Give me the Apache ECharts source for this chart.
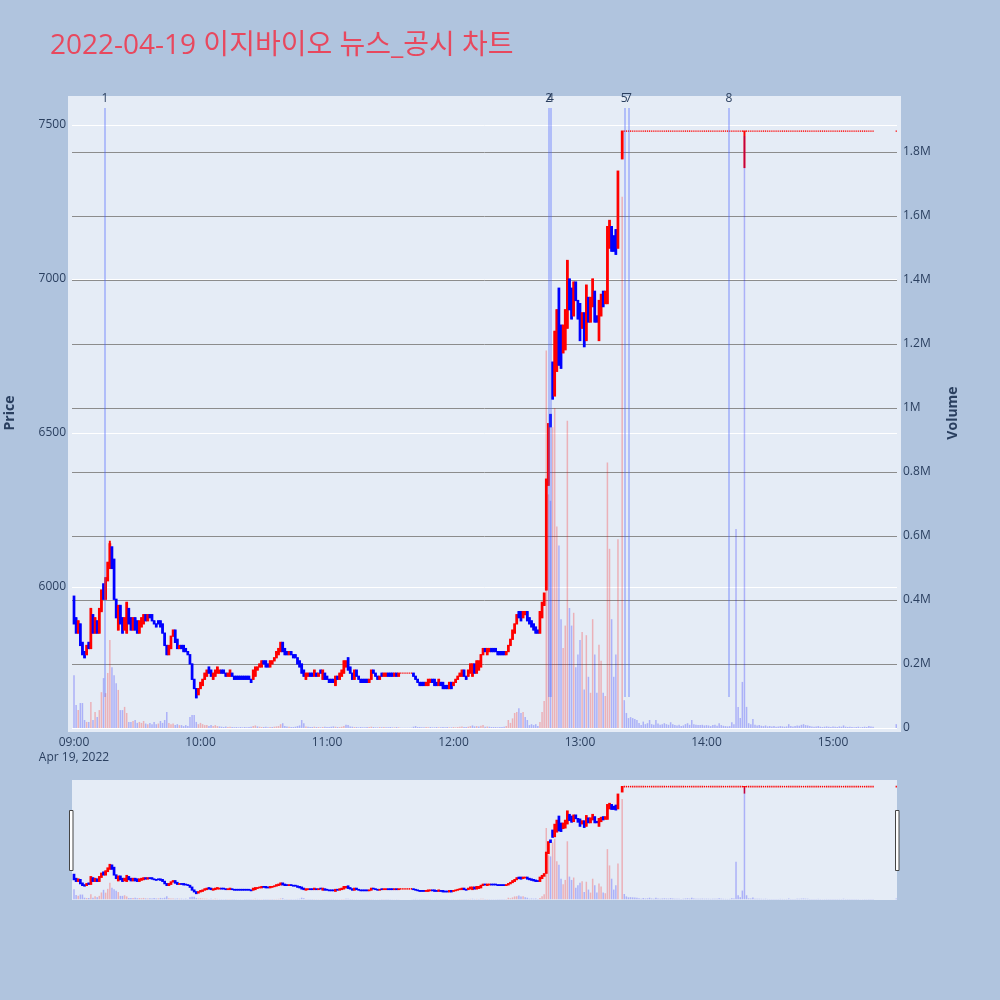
<!DOCTYPE html>
<html><head><meta charset="utf-8">
<script src="https://cdn.jsdelivr.net/npm/echarts@6/dist/echarts.min.js"></script>
<style>html,body{margin:0;padding:0;background:#b0c4de}#c{width:1000px;height:1000px}</style>
</head><body><div id="c"></div>
<script>
const titleText = '2022-04-19 이지바이오 뉴스_공시 차트';
const startMinute = 540; // first candle 09:00 (minutes of day), one candle per minute

const openPrices = [
5970,5900,5850,5880,5820,5790,5780,5820,5800,5910,
5850,5890,5850,5920,6010,5960,6020,6060,6130,6090,
5960,5860,5940,5900,5860,5850,5930,5900,5860,5900,
5890,5850,5870,5880,5910,5890,5910,5910,5890,5880,
5890,5890,5880,5850,5810,5780,5800,5840,5860,5830,
5800,5810,5810,5800,5790,5780,5750,5700,5670,5650,
5670,5680,5700,5710,5740,5730,5700,5710,5720,5720,
5730,5730,5720,5710,5710,5720,5710,5710,5710,5710,
5710,5710,5710,5710,5700,5700,5710,5730,5740,5740,
5760,5760,5750,5740,5750,5760,5770,5780,5790,5820,
5800,5790,5780,5790,5780,5780,5770,5760,5750,5730,
5700,5710,5720,5720,5710,5720,5710,5730,5700,5720,
5710,5700,5700,5700,5680,5710,5700,5710,5720,5740,
5770,5740,5720,5700,5730,5710,5700,5700,5700,5700,
5690,5700,5730,5720,5710,5700,5720,5710,5710,5720,
5720,5720,5710,5720,5710,5720,5720,5720,5720,5720,
5720,5720,5710,5700,5690,5690,5690,5680,5680,5690,
5700,5700,5690,5680,5690,5690,5680,5680,5670,5690,
5680,5690,5700,5710,5710,5730,5710,5710,5720,5710,
5750,5720,5730,5740,5780,5800,5780,5790,5800,5800,
5800,5790,5790,5790,5790,5780,5790,5810,5830,5850,
5880,5920,5920,5900,5910,5920,5900,5890,5880,5870,
5860,5850,5900,5940,5990,6330,6560,6730,6620,6700,
6970,6850,6760,6770,6840,7000,6970,6880,6990,6930,
6920,6840,6890,6800,6940,6860,6910,6960,6880,6800,
6880,6960,6920,6920,7100,7170,7140,7160,7100,null,
7390,7480,7480,7480,7480,7480,7480,7480,7480,7480,
7480,7480,7480,7480,7480,7480,7480,7480,7480,7480,
7480,7480,7480,7480,7480,7480,7480,7480,7480,7480,
7480,7480,7480,7480,7480,7480,7480,7480,7480,7480,
7480,7480,7480,7480,7480,7480,7480,7480,7480,7480,
7480,7480,7480,7480,7480,7480,7480,7480,7480,7480,
7480,7480,7480,7480,7480,7480,7480,7480,7480,7480,
7480,7480,7480,7480,7480,7480,7480,7480,7480,7480,
7480,7480,7480,7480,7480,7480,7480,7480,7480,7480,
7480,7480,7480,7480,7480,7480,7480,7480,7480,7480,
7480,7480,7480,7480,7480,7480,7480,7480,7480,7480,
7480,7480,7480,7480,7480,7480,7480,7480,7480,7480,
null,null,null,null,null,null,null,null,null,null,
7480
];

const closePrices = [
5880,5850,5890,5810,5780,5770,5810,5800,5930,5850,
5900,5850,5930,5990,5960,6030,6080,6140,6060,5960,
5900,5940,5880,5850,5900,5950,5880,5860,5900,5860,
5850,5890,5900,5910,5890,5910,5900,5890,5880,5870,
5880,5870,5850,5810,5780,5810,5840,5860,5820,5800,
5810,5800,5790,5790,5780,5750,5700,5670,5640,5670,
5690,5700,5720,5730,5720,5710,5720,5730,5740,5730,
5720,5720,5710,5720,5730,5710,5700,5700,5700,5700,
5700,5700,5700,5700,5690,5730,5740,5740,5750,5760,
5750,5740,5740,5760,5760,5770,5790,5800,5820,5790,
5780,5780,5790,5780,5770,5770,5750,5740,5720,5710,
5720,5720,5710,5710,5730,5710,5720,5720,5730,5700,
5700,5690,5690,5690,5710,5700,5720,5730,5760,5760,
5730,5720,5700,5730,5710,5700,5690,5690,5690,5690,
5700,5730,5720,5710,5700,5710,5710,5720,5720,5710,
5710,5710,5720,5710,5720,5720,5720,5720,5720,5720,
5720,5710,5700,5690,5680,5680,5680,5690,5700,5700,
5690,5680,5680,5700,5680,5670,5670,5670,5690,5670,
5690,5700,5710,5720,5730,5710,5700,5730,5750,5750,
5720,5760,5760,5780,5800,5790,5800,5800,5790,5790,
5790,5780,5780,5780,5780,5790,5810,5830,5860,5880,
5910,5900,5890,5920,5920,5890,5880,5870,5860,5850,
5850,5920,5950,5980,6350,6530,6520,6610,6830,6900,
6720,6710,6850,6900,7060,6900,6870,6990,6930,6870,
6800,6890,6780,6980,6860,6940,7000,6860,6860,6930,
6950,6910,6960,7170,7190,7090,7090,7080,7350,null,
7480,7480,7480,7480,7480,7480,7480,7480,7480,7480,
7480,7480,7480,7480,7480,7480,7480,7480,7480,7480,
7480,7480,7480,7480,7480,7480,7480,7480,7480,7480,
7480,7480,7480,7480,7480,7480,7480,7480,7480,7480,
7480,7480,7480,7480,7480,7480,7480,7480,7480,7480,
7480,7480,7480,7480,7480,7480,7480,7480,7480,7480,
7480,7480,7480,7480,7480,7480,7480,7480,7480,7480,
7480,7480,7480,7480,7480,7480,7480,7480,7480,7480,
7480,7480,7480,7480,7480,7480,7480,7480,7480,7480,
7480,7480,7480,7480,7480,7480,7480,7480,7480,7480,
7480,7480,7480,7480,7480,7480,7480,7480,7480,7480,
7480,7480,7480,7480,7480,7480,7480,7480,7480,7480,
null,null,null,null,null,null,null,null,null,null,
7480
];

// wicks that extend past the candle body (minute index -> price)
const wickLows = { 318: 7360 };
const wickHighs = { 17: 6150 };

// traded volume, thousands of shares per minute
const volumesK = [
165,72,56,78,78,25,19,19,81,25,
50,34,56,112,156,109,172,275,190,165,
140,119,56,56,66,47,19,19,22,25,
16,19,16,22,14,12,16,12,19,12,
14,22,16,25,50,16,12,14,9,12,
9,9,6,9,6,34,41,41,19,12,
16,12,9,9,6,9,6,9,6,5,
4,3,5,3,4,3,2,3,2,3,
2,3,2,3,4,6,8,5,4,3,
3,4,2,3,3,4,5,6,12,15,
6,5,4,3,3,4,6,8,25,15,
5,4,3,3,4,3,3,2,3,4,
3,3,4,5,4,3,3,4,6,10,
9,5,4,3,3,2,3,2,2,3,
3,4,3,2,2,3,2,3,2,2,
3,2,2,3,2,1,1,1,1,1,
1,4,6,3,3,2,2,3,2,3,
2,2,3,2,2,3,2,3,2,2,
3,2,3,4,5,3,3,4,6,8,
5,6,5,7,9,4,5,4,3,3,
3,2,3,3,4,6,25,16,30,47,
50,62,47,50,34,25,9,12,9,12,
6,19,50,84,1180,730,710,940,1000,630,
570,340,250,320,960,375,320,360,190,230,
275,300,120,290,160,110,340,230,110,260,
210,110,100,830,560,340,160,230,590,null,
1660,87,47,31,34,31,28,25,16,9,
20,12,15,25,12,10,25,14,10,12,
15,12,10,18,12,9,8,10,6,8,
12,15,10,25,12,10,9,9,10,8,
9,8,6,9,10,7,15,9,7,6,
5,6,18,12,622,66,31,144,1850,66,
15,12,28,10,8,9,7,6,8,5,
6,5,6,4,5,6,5,4,5,12,
6,5,6,8,7,10,12,9,8,6,
5,4,5,6,4,3,4,5,4,3,
5,4,3,5,4,8,4,3,4,3,
2,3,4,2,3,4,3,6,5,4,
null,null,null,null,null,null,null,null,null,null,
12
];

const timeTickValues = [540, 600, 660, 720, 780, 840, 900];
const timeTickLabels = ['09:00', '10:00', '11:00', '12:00', '13:00', '14:00', '15:00'];
const dateLabel = 'Apr 19, 2022';
const priceTicks = [6000, 6500, 7000, 7500];
const volumeTicks = [0, 200000, 400000, 600000, 800000, 1000000, 1200000, 1400000, 1600000, 1800000];
const volumeTickLabels = ['0', '0.2M', '0.4M', '0.6M', '0.8M', '1M', '1.2M', '1.4M', '1.6M', '1.8M'];

// news / disclosure markers: label and time (minutes of day)
const newsLabels = ['1', '2', '4', '5', '7', '8'];
const newsMinutes = [554.7, 765.2, 766.0, 801.0, 803.0, 850.6];

// ---- axis ranges and styling ----
const X_MIN = 539.05, X_MAX = 930.35;
const P_MIN = 5529, P_MAX = 7594;
const V_MIN = -12500, V_MAX = 1975000;
const FONT = '"Open Sans", verdana, arial, sans-serif';
const UP = '#ff0000', DOWN = '#0000ff';
const VOL_UP = 'rgba(255,0,0,0.25)', VOL_DOWN = 'rgba(0,0,255,0.25)';

const candleData = [];
const volumeData = [];
let prevClose = null;
for (let i = 0; i < openPrices.length; i++) {
  const o = openPrices[i], c = closePrices[i];
  if (o == null || c == null) continue;
  const t = startMinute + i;
  const lo = wickLows[i] != null ? wickLows[i] : Math.min(o, c);
  const hi = wickHighs[i] != null ? wickHighs[i] : Math.max(o, c);
  const dir = c > o ? 1 : (c < o ? -1 : (prevClose == null || c >= prevClose ? 1 : -1));
  candleData.push([t, o, c, lo, hi, dir]);
  const up = prevClose == null ? c > o : c > prevClose;
  if (volumesK[i] != null) {
    volumeData.push({ value: [t, volumesK[i] * 1000], itemStyle: { color: up ? VOL_UP : VOL_DOWN } });
  }
  prevClose = c;
}

function makeCandleRenderer(bodyW, flatW, flatH, wickW, pad) {
  return function (params, api) {
    const t = api.value(0), o = api.value(1), c = api.value(2), lo = api.value(3), hi = api.value(4), dir = api.value(5);
    const pO = api.coord([t, o]), pC = api.coord([t, c]), pL = api.coord([t, lo]), pH = api.coord([t, hi]);
    const color = dir > 0 ? UP : DOWN;
    const flat = (o === c && lo === hi);
    let top = Math.min(pO[1], pC[1]), bot = Math.max(pO[1], pC[1]);
    let w = bodyW;
    if (flat) {
      w = flatW;
      const mid = (top + bot) / 2; top = mid - flatH / 2; bot = mid + flatH / 2;
    } else {
      top -= pad; bot += pad;
    }
    const children = [];
    if (pL[1] - pH[1] > 0.5) {
      children.push({ type: 'line', shape: { x1: pO[0], y1: pH[1], x2: pO[0], y2: pL[1] }, style: { stroke: color, lineWidth: wickW } });
    }
    children.push({ type: 'rect', shape: { x: pO[0] - w / 2, y: top, width: w, height: bot - top }, style: { fill: color } });
    return { type: 'group', children: children };
  };
}

const vFrac = f => V_MIN + f * (V_MAX - V_MIN);
const newsLines = newsMinutes.map((t, i) => [
  { coord: [t, vFrac(0.055)], name: newsLabels[i] },
  { coord: [t, vFrac(0.981)] }
]);

const chart = echarts.init(document.getElementById('c'), null, { renderer: 'canvas', width: 1000, height: 1000 });
chart.setOption({
  backgroundColor: '#b0c4de',
  animation: false,
  title: {
    text: titleText, left: 50, top: 32, padding: 0,
    textStyle: { color: '#e8485e', fontSize: 28, fontWeight: 'normal', fontFamily: '"Open Sans", "Noto Sans CJK KR", sans-serif' }
  },
  graphic: [
    { type: 'rect', z: -10, silent: true, shape: { x: 68, y: 96, width: 833, height: 636 }, style: { fill: '#e5ecf6' } },
    { type: 'text', x: 10, y: 413, rotation: Math.PI / 2, silent: true,
      style: { text: 'Price', textAlign: 'center', textVerticalAlign: 'middle', font: 'bold 14px ' + FONT, fill: '#2a3f5f' } },
    { type: 'text', x: 953, y: 413, rotation: Math.PI / 2, silent: true,
      style: { text: 'Volume', textAlign: 'center', textVerticalAlign: 'middle', font: 'bold 14px ' + FONT, fill: '#2a3f5f' } },
    { type: 'rect', z: 100, shape: { x: 69.5, y: 810.5, width: 3.5, height: 60 }, style: { fill: '#ffffff', stroke: '#444444', lineWidth: 1 } },
    { type: 'rect', z: 100, shape: { x: 895.5, y: 810.5, width: 3.5, height: 60 }, style: { fill: '#ffffff', stroke: '#444444', lineWidth: 1 } }
  ],
  grid: [
    { left: 72, top: 96, width: 825, height: 636 },
    { left: 72, top: 780, width: 825, height: 120, show: true, backgroundColor: '#e5ecf6', borderWidth: 0 }
  ],
  xAxis: [
    {
      type: 'value', gridIndex: 0, min: X_MIN, max: X_MAX,
      axisLine: { show: false }, splitLine: { show: false },
      axisTick: { show: false, customValues: timeTickValues },
      axisLabel: {
        customValues: timeTickValues, color: '#2a3f5f', fontSize: 12, fontFamily: FONT, margin: 3, lineHeight: 15,
        formatter: v => {
          const k = timeTickValues.indexOf(Math.round(v));
          const s = k >= 0 ? timeTickLabels[k] : '';
          return k === 0 ? s + '\n' + dateLabel : s;
        }
      }
    },
    { type: 'value', gridIndex: 1, min: X_MIN, max: X_MAX, show: false, splitLine: { show: false } }
  ],
  yAxis: [
    {
      type: 'value', gridIndex: 0, min: P_MIN, max: P_MAX, position: 'left',
      axisLine: { show: false }, axisTick: { show: false, customValues: priceTicks },
      axisLabel: { customValues: priceTicks, color: '#2a3f5f', fontSize: 12, fontFamily: FONT, margin: 6, formatter: v => String(Math.round(v)) },
      splitLine: { show: true, lineStyle: { color: '#ffffff', width: 1 } }
    },
    {
      type: 'value', gridIndex: 0, min: V_MIN, max: V_MAX, position: 'right',
      axisLine: { show: false }, axisTick: { show: false, customValues: volumeTicks },
      axisLabel: {
        customValues: volumeTicks, color: '#2a3f5f', fontSize: 12, fontFamily: FONT, margin: 6,
        formatter: v => { const k = volumeTicks.indexOf(Math.round(v)); return k >= 0 ? volumeTickLabels[k] : ''; }
      },
      splitLine: { show: true, lineStyle: { color: ['#ffffff', '#8c8c8c', '#8c8c8c', '#8c8c8c', '#8c8c8c', '#8c8c8c', '#8c8c8c', '#8c8c8c', '#8c8c8c', '#8c8c8c'], width: 1 } }
    },
    { type: 'value', gridIndex: 1, min: P_MIN, max: P_MAX, show: false, splitLine: { show: false } },
    { type: 'value', gridIndex: 1, min: V_MIN, max: V_MAX, show: false, splitLine: { show: false } }
  ],
  series: [
    {
      type: 'custom', name: 'Price', xAxisIndex: 0, yAxisIndex: 0, z: 2, clip: true,
      data: candleData, encode: { x: 0, y: [1, 2, 3, 4] },
      renderItem: makeCandleRenderer(2.7, 1.3, 1.4, 2, 0.6)
    },
    {
      type: 'bar', name: 'Volume', xAxisIndex: 0, yAxisIndex: 1, z: 3, barWidth: 1.5,
      data: volumeData,
      markLine: {
        silent: true, symbol: ['none', 'none'], animation: false,
        lineStyle: { color: 'rgba(70,100,255,0.45)', width: 1.5, type: 'solid' },
        label: { show: true, position: 'end', formatter: '{b}', color: '#2a3f5f', fontSize: 12, fontFamily: FONT, distance: 4 },
        emphasis: { disabled: true },
        data: newsLines
      }
    },
    {
      type: 'custom', xAxisIndex: 1, yAxisIndex: 2, z: 2, clip: true,
      data: candleData, encode: { x: 0, y: [1, 2, 3, 4] },
      renderItem: makeCandleRenderer(2.7, 1.3, 1.6, 1.5, 0.6)
    },
    {
      type: 'bar', xAxisIndex: 1, yAxisIndex: 3, z: 3, barWidth: 1.5, data: volumeData
    }
  ]
});
</script>
</body></html>
